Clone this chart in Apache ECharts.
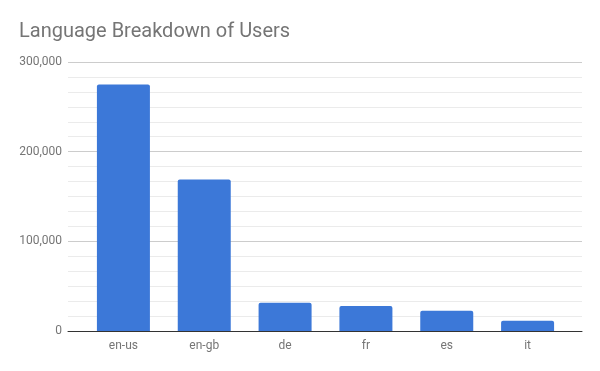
<!DOCTYPE html>
<html>
<head>
<meta charset="utf-8">
<script src="https://cdn.jsdelivr.net/npm/echarts@6/dist/echarts.min.js"></script>
<style>
html,body{margin:0;padding:0;background:#fff;}
#chart{width:600px;height:371px;}
</style>
</head>
<body>
<div id="chart"></div>
<script>
var title = "Language Breakdown of Users";
var categories = ["en-us", "en-gb", "de", "fr", "es", "it"];
var users = [275000, 169000, 31500, 28000, 22500, 11500];
var yTicks = [0, 100000, 200000, 300000];

var chart = echarts.init(document.getElementById('chart'), null, {renderer: 'canvas'});
var fmt = function (v) { return v.toLocaleString('en-US'); };
chart.setOption({
  animation: false,
  backgroundColor: '#ffffff',
  textStyle: {fontFamily: 'Roboto'},
  title: {
    text: title,
    left: 14,
    top: 17,
    textStyle: {fontFamily: 'Roboto', fontSize: 20, fontWeight: 'normal', color: '#757575'}
  },
  grid: [
    {left: 68, right: 18, top: 62, bottom: 40},
    {left: 83, right: 32, top: 62, bottom: 40}
  ],
  xAxis: [
    {
      gridIndex: 0, type: 'category', data: [''],
      axisLine: {show: true, lineStyle: {color: '#333333', width: 1}},
      axisTick: {show: false}, axisLabel: {show: false}, splitLine: {show: false}
    },
    {
      gridIndex: 1, type: 'category', data: categories,
      axisLine: {show: false}, axisTick: {show: false},
      axisLabel: {color: '#757575', fontSize: 12, margin: 9, fontFamily: 'Roboto'}
    }
  ],
  yAxis: [
    {
      gridIndex: 0, type: 'value', min: yTicks[0], max: yTicks[yTicks.length - 1], interval: 100000,
      axisLine: {show: false}, axisTick: {show: false},
      axisLabel: {color: '#757575', fontSize: 12, margin: 6, formatter: fmt, fontFamily: 'Roboto'},
      splitLine: {show: true, lineStyle: {color: '#cccccc', width: 1}},
      minorTick: {show: false, splitNumber: 6},
      minorSplitLine: {show: true, lineStyle: {color: '#ebebeb', width: 1}}
    },
    {
      gridIndex: 1, type: 'value', min: yTicks[0], max: yTicks[yTicks.length - 1], interval: 100000,
      show: false, splitLine: {show: false}
    }
  ],
  series: [{
    type: 'bar',
    xAxisIndex: 1, yAxisIndex: 1,
    data: users,
    barWidth: 53,
    itemStyle: {color: '#3c78d8', borderRadius: [2, 2, 0, 0]}
  }]
});
</script>
</body>
</html>
